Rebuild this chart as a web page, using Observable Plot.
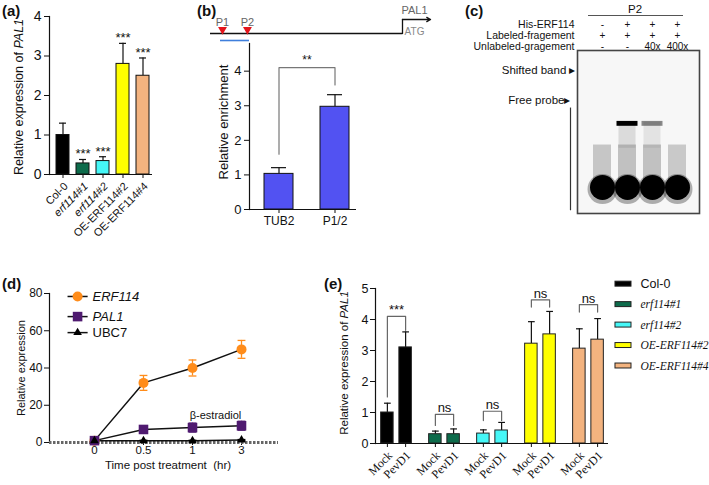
<!DOCTYPE html>
<html><head><meta charset="utf-8">
<script src="https://cdn.jsdelivr.net/npm/d3@7"></script>
<script src="https://cdn.jsdelivr.net/npm/@observablehq/plot@0.6"></script>
<style>
html,body{margin:0;padding:0;background:#fff;}
#root{position:relative;width:709px;height:485px;overflow:hidden;font-family:"Liberation Sans",Arial,sans-serif;color:#111;}
.panel{position:absolute;}
.panel svg{overflow:visible;}
.letter{position:absolute;font-weight:bold;font-size:15px;line-height:1;}
.ytitle{position:absolute;white-space:nowrap;transform:translate(-50%,-50%) rotate(-90deg);line-height:1;}
.xtitle{position:absolute;white-space:nowrap;transform:translate(-50%,-50%);line-height:1;}
</style></head><body><div id="root"></div>
<script>
// ---------------- DATA ----------------
const genotypes = ["Col-0","erf114#1","erf114#2","OE-ERF114#2","OE-ERF114#4"];
const genotypeColors = ["#000000","#0d6b4b","#45f7f7","#ffff00","#f3b37f"];
const italicSans = ["erf114#1","erf114#2"];

// (a)
const aValues = [1.0, 0.28, 0.34, 2.80, 2.50];
const aErrors = [0.30, 0.10, 0.11, 0.52, 0.45];
const aSig = ["", "***", "***", "***", "***"];
const aTicks = [0,1,2,3,4];

// (b) diagram + ChIP
const promoterSites = ["P1","P2"];
const promoterPos = [-1875, -1615];
const probeSpan = [-1896, -1594];
const promoterLength = -2000;
const bSites = ["TUB2","P1/2"];
const bValues = [1.03, 2.97];
const bErrors = [0.18, 0.35];
const bBracket = [1.6, 4.1, 4.1, 3.6];
const bSig = "**";
const bTicks = [0,1,2,3,4];

// (c) EMSA
const lanes = [1,2,3,4];
const cRowLabels = ["His-ERF114","Labeled-fragement","Unlabeled-gragement"];
const cHis = ["-","+","+","+"];
const cLabeled = ["+","+","+","+"];
const cUnlabeled = ["-","-","40x","400x"];
const cShifted = [0, 1, 0.45, 0];
const cSmear = [0.35, 0.38, 0.38, 0.32];
const cUpperSmear = [0, 0.22, 0.16, 0];

// (d)
const dTimes = ["0","0.5","1","3"];
const erf114Mean = [1, 32, 40, 50];
const erf114Err = [0.6, 4, 4.3, 4.8];
const pal1Mean = [1, 7, 8, 9];
const pal1Err = [0.5, 2, 2.4, 2.4];
const ubc7Mean = [1, 1, 1, 1.3];
const ubc7Err = [0.2, 0.2, 0.2, 0.3];
const dSeries = ["ERF114","PAL1","UBC7"];
const dColors = ["#ff8c1a","#4f1a70","#000000"];
const dTicks = [0,20,40,60,80];

// (e)
const eTreatments = ["Mock","PevD1"];
const eMock = [1.0, 0.30, 0.32, 3.22, 3.06];
const eMockErr = [0.30, 0.10, 0.12, 0.71, 0.64];
const ePev = [3.10, 0.30, 0.42, 3.52, 3.35];
const ePevErr = [0.50, 0.17, 0.26, 0.74, 0.68];
const eBracketLeft = [1.5, 0.58, 0.74, 4.40, 4.24];
const eBracketTop = [4.1, 0.94, 1.04, 4.63, 4.48];
const eBracketRight = [3.65, 0.58, 0.74, 4.40, 4.24];
const eSig = ["***","ns","ns","ns","ns"];
const eTicks = [0,1,2,3,4,5];

// ---------------- HELPERS ----------------
const FONT = '"Liberation Sans", Arial, Helvetica, sans-serif';
const SERIF = '"Liberation Serif", "Times New Roman", serif';
const INT = d3.format("d");
const root = document.getElementById("root");
const baseStyle = (fs) => ({fontFamily: FONT, fontSize: fs, background: "transparent", color: "#111", overflow: "visible"});
function place(node, left, top) {
  const d = document.createElement("div");
  d.className = "panel"; d.style.left = left + "px"; d.style.top = top + "px";
  d.appendChild(node); root.appendChild(d); return node;
}
function html(cls, content, left, top, fs, extra) {
  const d = document.createElement("div");
  d.className = cls; d.innerHTML = content;
  d.style.left = left + "px"; d.style.top = top + "px";
  if (fs) d.style.fontSize = fs + "px";
  if (extra) Object.assign(d.style, extra);
  root.appendChild(d);
}
function addBlur(svg, id, sd, label) {
  const s = d3.select(svg);
  let defs = s.select("defs");
  if (defs.empty()) defs = s.insert("defs", ":first-child");
  defs.append("filter").attr("id", id).attr("x", "-60%").attr("y", "-60%").attr("width", "220%").attr("height", "220%")
    .append("feGaussianBlur").attr("stdDeviation", sd);
  s.selectAll(`[aria-label="${label}"]`).attr("filter", `url(#${id})`);
}

// ---------------- PANEL A ----------------
const aData = genotypes.map((g, i) => ({g, v: aValues[i], e: aErrors[i], s: aSig[i]}));
place(Plot.plot({
  width: 160, height: 245, marginLeft: 49, marginRight: 8, marginTop: 16, marginBottom: 71,
  style: baseStyle("14px"),
  x: {type: "band", domain: genotypes, range: [53, 152], paddingInner: 0.35, paddingOuter: 0.15},
  y: {domain: [0, 4]},
  color: {domain: genotypes, range: genotypeColors},
  marks: [
    Plot.axisY({ticks: aTicks, tickFormat: INT, tickSize: 5, tickPadding: 3, fontSize: 14, label: null}),
    Plot.axisX({tickSize: 4, tickFormat: () => "", label: null}),
    Plot.frame({anchor: "left", strokeWidth: 1.2}),
    Plot.ruleX(aData, {x: "g", y1: "v", y2: d => d.v + d.e, strokeWidth: 1.2}),
    Plot.tickY(aData, {x: "g", y: d => d.v + d.e, insetLeft: 3, insetRight: 3, strokeWidth: 1.2}),
    Plot.barY(aData, {x: "g", y: "v", fill: "g", stroke: "#111", strokeWidth: 1}),
    Plot.ruleY([0], {strokeWidth: 1.2}),
    Plot.text(aData, {x: "g", y: d => d.v + d.e, text: "s", lineAnchor: "bottom", dy: -1, fontSize: 13}),
    Plot.text(aData.filter(d => !italicSans.includes(d.g)), {x: "g", y: 0, text: "g", rotate: -45, textAnchor: "end", dx: 3, dy: 10, fontSize: 11}),
    Plot.text(aData.filter(d => italicSans.includes(d.g)), {x: "g", y: 0, text: "g", rotate: -45, textAnchor: "end", dx: 3, dy: 10, fontSize: 11, fontStyle: "italic"})
  ]
}), 0, 0);
html("letter", "(a)", 2, 3);
html("ytitle", "Relative expression of <i>PAL1</i>", 19, 97, 12.5);

// ---------------- PANEL B: diagram ----------------
const promoter = promoterSites.map((p, i) => ({p, x: promoterPos[i]}));
place(Plot.plot({
  width: 245, height: 45, margin: 0,
  style: baseStyle("11px"),
  x: {domain: [promoterLength, 0], range: [15, 207], axis: null},
  y: {domain: [0, 1], range: [33, 19], axis: null},
  marks: [
    Plot.ruleY([0], {x1: promoterLength, x2: 0, strokeWidth: 1.6, stroke: "#111"}),
    Plot.line([{x: 0, y: 0}, {x: 0, y: 1}], {x: "x", y: "y", strokeWidth: 1.3, stroke: "#111"}),
    Plot.arrow([0], {x1: 0, y1: 1, x2: 292, y2: 1, headLength: 5, strokeWidth: 1.3, stroke: "#111"}),
    Plot.ruleY([-0.5], {x1: probeSpan[0], x2: probeSpan[1], stroke: "#3f7fdc", strokeWidth: 1.6}),
    Plot.dot(promoter, {x: "x", y: 0, symbol: "triangle", rotate: 180, r: 3.3, fill: "#e3141b", stroke: "none", dy: -4}),
    Plot.text(promoter, {x: "x", y: 0.8, text: "p", fill: "#666", fontSize: 11}),
    Plot.text(["PAL1"], {x: 125, y: 1.64, text: d => d, fill: "#666", fontSize: 11}),
    Plot.text(["ATG"], {x: 125, y: 0.1, text: d => d, fill: "#888", fontSize: 10})
  ]
}), 195, 0);
html("letter", "(b)", 197, 3);

// ---------------- PANEL B: bars ----------------
const bData = bSites.map((s, i) => ({s, v: bValues[i], e: bErrors[i]}));
place(Plot.plot({
  width: 175, height: 195, marginLeft: 54, marginRight: 14, marginTop: 3, marginBottom: 26,
  style: baseStyle("13px"),
  x: {type: "band", domain: bSites, range: [62, 161], paddingInner: 0.487, paddingOuter: 0.12},
  y: {domain: [0, 4.8]},
  marks: [
    Plot.axisY({ticks: bTicks, tickFormat: INT, tickSize: 5, tickPadding: 3, fontSize: 13, label: null}),
    Plot.axisX({tickSize: 4, tickPadding: 3, fontSize: 12, label: null}),
    Plot.frame({anchor: "left", strokeWidth: 1.2}),
    Plot.ruleX(bData, {x: "s", y1: "v", y2: d => d.v + d.e, strokeWidth: 1.2}),
    Plot.tickY(bData, {x: "s", y: d => d.v + d.e, insetLeft: 7, insetRight: 7, strokeWidth: 1.2}),
    Plot.barY(bData, {x: "s", y: "v", fill: "#5252f2", stroke: "#111", strokeWidth: 1}),
    Plot.ruleY([0], {strokeWidth: 1.2}),
    Plot.line([0, 1, 2, 3].map(i => ({x: bSites[i < 2 ? 0 : 1], y: bBracket[i]})), {x: "x", y: "y", stroke: "#777", strokeWidth: 1.2}),
    Plot.text([bSig], {x: () => bSites[0], y: bBracket[1], text: d => d, dx: 28, dy: -8, fontSize: 12})
  ]
}), 195, 40);
html("ytitle", "Relative enrichment", 223, 122, 13);

// ---------------- PANEL C: EMSA ----------------
const cRowY = [-16, -9.2, -2.5];
const cSvg = Plot.plot({
  width: 289, height: 240, marginLeft: 157, marginRight: 10, marginTop: 50, marginBottom: 27,
  style: baseStyle("11px"),
  x: {domain: [0, 4.88], axis: null},
  y: {domain: [0, 100], range: [50, 213], axis: null},
  marks: [
    Plot.frame({fill: "#f7f7f7", stroke: "#444", strokeWidth: 1.6}),
    Plot.rect(lanes, {x1: d => d - 0.36, x2: d => d + 0.36, y1: 58, y2: 84, fill: "#6a6a6a", fillOpacity: (d, i) => cSmear[i], ariaLabel: "gel-smear"}),
    Plot.rect(lanes, {x1: d => d - 0.34, x2: d => d + 0.34, y1: 44, y2: 60, fill: "#7a7a7a", fillOpacity: (d, i) => cUpperSmear[i], ariaLabel: "gel-smear"}),
    Plot.rect(lanes, {x1: d => d - 0.42, x2: d => d + 0.42, y1: 43.5, y2: 46.5, fill: "#000", fillOpacity: (d, i) => cShifted[i], ariaLabel: "gel-band"}),
    Plot.dot(lanes, {x: d => d, y: 85, r: 15, fill: "#000", fillOpacity: 0.3, ariaLabel: "gel-halo"}),
    Plot.dot(lanes, {x: d => d, y: 84, r: 12.5, fill: "#000", ariaLabel: "gel-blob"}),
    Plot.ruleY([-21.5], {x1: 0.44, x2: 4.24, stroke: "#555", strokeWidth: 1.1}),
    Plot.text(["P2"], {x: 2.3, y: -25, text: d => d, fontSize: 11.5}),
    Plot.text(lanes, {x: d => d, y: cRowY[0], text: (d, i) => cHis[i], fontSize: 10}),
    Plot.text(lanes, {x: d => d, y: cRowY[1], text: (d, i) => cLabeled[i], fontSize: 10}),
    Plot.text(lanes, {x: d => d, y: cRowY[2], text: (d, i) => cUnlabeled[i], fontSize: 10}),
    Plot.text(cRowLabels, {x: -0.12, y: (d, i) => cRowY[i], text: d => d, textAnchor: "end", fontSize: 10.5}),
    Plot.text(["Shifted band \u25B8"], {x: -0.08, y: 12.3, text: d => d, textAnchor: "end", fontSize: 11.5}),
    Plot.text(["Free probe\u25B8"], {x: -0.28, y: 30.7, text: d => d, textAnchor: "end", fontSize: 11.5}),
    Plot.link([0], {x1: -0.28, x2: -0.28, y1: 35, y2: 98, stroke: "#333", strokeWidth: 1.2})
  ]
});
place(cSvg, 420, 0);
addBlur(cSvg, "blurSmear", 2.2, "gel-smear");
addBlur(cSvg, "blurBand", 0.9, "gel-band");
addBlur(cSvg, "blurHalo", 3, "gel-halo");
addBlur(cSvg, "blurBlob", 1.1, "gel-blob");
html("letter", "(c)", 465, 3);

// ---------------- PANEL D ----------------
const dMeans = [erf114Mean, pal1Mean, ubc7Mean];
const dErrs = [erf114Err, pal1Err, ubc7Err];
const dPoints = dSeries.flatMap((s, k) => dTimes.map((t, i) => ({s, k, i, v: dMeans[k][i], e: dErrs[k][i]})));
const dSymbols = ["circle", "square", "triangle"];
const dR = [5, 5.4, 3.2];
const legendX0 = -0.55, legendX1 = -0.14, legendTextX = -0.04;
const legendY = [78.4, 67.6, 59];
const dLegend = dSeries.map((s, k) => ({s, k}));
const dMarks = [
  Plot.axisY({ticks: dTicks, tickFormat: INT, tickSize: 5, tickPadding: 2, fontSize: 12, label: null}),
  Plot.axisX({ticks: [0, 1, 2, 3], tickFormat: i => dTimes[i], tickSize: 3, tickPadding: 0, fontSize: 11.5, label: null}),
  Plot.frame({anchor: "left", strokeWidth: 1.2}),
  Plot.ruleY([0], {stroke: "#666", strokeWidth: 3, strokeDasharray: "2.5,1.5"}),
  Plot.line(dPoints, {x: "i", y: "v", z: "s", stroke: "#111", strokeWidth: 1.5}),
  Plot.ruleX(dPoints, {x: "i", y1: d => d.v - d.e, y2: d => d.v + d.e, stroke: d => dColors[d.k], strokeWidth: 1.3}),
  Plot.link(dPoints, {x1: d => d.i - 0.08, x2: d => d.i + 0.08, y1: d => d.v + d.e, y2: d => d.v + d.e, stroke: d => dColors[d.k], strokeWidth: 1.3}),
  Plot.link(dPoints, {x1: d => d.i - 0.08, x2: d => d.i + 0.08, y1: d => d.v - d.e, y2: d => d.v - d.e, stroke: d => dColors[d.k], strokeWidth: 1.3}),
  Plot.text(["\u03B2-estradiol"], {x: 2.47, y: 14.5, text: d => d, fontSize: 11}),
  Plot.link(dLegend, {x1: legendX0, x2: legendX1, y1: d => legendY[d.k], y2: d => legendY[d.k], stroke: "#111", strokeWidth: 1.5})
];
dSeries.forEach((s, k) => {
  dMarks.push(Plot.dot(dPoints.filter(d => d.k === k), {x: "i", y: "v", symbol: dSymbols[k], r: dR[k], fill: dColors[k], stroke: "none"}));
  dMarks.push(Plot.dot([s], {x: (legendX0 + legendX1) / 2, y: legendY[k], symbol: dSymbols[k], r: dR[k], fill: dColors[k], stroke: "none"}));
  dMarks.push(Plot.text([s], {x: legendTextX, y: legendY[k], text: d => d, textAnchor: "start", fontSize: 13, fontStyle: k < 2 ? "italic" : "normal"}));
});
place(Plot.plot({
  width: 290, height: 200, marginLeft: 49, marginRight: 12, marginTop: 23, marginBottom: 28,
  style: baseStyle("12px"),
  x: {domain: [-0.918, 3.755]},
  y: {domain: [0, 80]},
  marks: dMarks
}), 0, 270);
html("letter", "(d)", 2, 276);
html("ytitle", "Relative expression", 21, 368, 11);
html("xtitle", "Time post treatment&nbsp;&nbsp;(hr)", 168, 466, 11.5);

// ---------------- PANEL E ----------------
const eBarOffset = 0.19, eHalfWidth = 0.13;
const eData = genotypes.flatMap((g, gi) => [
  {g, gi, t: eTreatments[0], x: gi - eBarOffset, v: eMock[gi], e: eMockErr[gi]},
  {g, gi, t: eTreatments[1], x: gi + eBarOffset, v: ePev[gi], e: ePevErr[gi]}
]);
const eBrackets = genotypes.flatMap((g, gi) => [
  {g, x: gi - eBarOffset, y: eBracketLeft[gi]},
  {g, x: gi - eBarOffset, y: eBracketTop[gi]},
  {g, x: gi + eBarOffset, y: eBracketTop[gi]},
  {g, x: gi + eBarOffset, y: eBracketRight[gi]}
]);
const eSigData = genotypes.map((g, gi) => ({g, x: gi, y: eBracketTop[gi], s: eSig[gi]}));
const eLegendX1 = 4.5625, eLegendX2 = 4.896, eLegendTextX = 5.083, eLegendY0 = 5.14, eLegendStep = 0.66, eSwatchH = 0.08;
const eLegend = genotypes.map((g, i) => ({g, y: eLegendY0 - i * eLegendStep}));
place(Plot.plot({
  width: 379, height: 215, marginLeft: 45, marginRight: 101, marginTop: 18, marginBottom: 42,
  style: baseStyle("12.5px"),
  x: {domain: [-0.4375, 4.417]},
  y: {domain: [0, 5]},
  color: {domain: genotypes, range: genotypeColors},
  marks: [
    Plot.axisY({ticks: eTicks, tickFormat: INT, tickSize: 5, tickPadding: 2, fontSize: 12.5, label: null}),
    Plot.axisX({ticks: eData.map(d => d.x), tickFormat: () => "", tickSize: 4, label: null}),
    Plot.frame({anchor: "left", strokeWidth: 1.2}),
    Plot.ruleX(eData, {x: "x", y1: "v", y2: d => d.v + d.e, strokeWidth: 1.2}),
    Plot.link(eData, {x1: d => d.x - 0.07, x2: d => d.x + 0.07, y1: d => d.v + d.e, y2: d => d.v + d.e, strokeWidth: 1.2}),
    Plot.rectY(eData, {x1: d => d.x - eHalfWidth, x2: d => d.x + eHalfWidth, y1: 0, y2: "v", fill: "g", stroke: "#222", strokeWidth: 1}),
    Plot.ruleY([0], {strokeWidth: 1.2}),
    Plot.line(eBrackets, {x: "x", y: "y", z: "g", stroke: "#666", strokeWidth: 1.2}),
    Plot.text(eSigData, {x: "x", y: "y", text: "s", lineAnchor: "bottom", dy: -2, fontSize: 13}),
    Plot.text(eData, {x: "x", y: 0, text: "t", rotate: -45, textAnchor: "end", dx: 3, dy: 10, fontSize: 12, fontFamily: SERIF}),
    Plot.rect(eLegend, {x1: eLegendX1, x2: eLegendX2, y1: d => d.y - eSwatchH, y2: d => d.y + eSwatchH, fill: "g", stroke: "#222", strokeWidth: 1}),
    Plot.text(eLegend.slice(0, 1), {x: eLegendTextX, y: "y", text: "g", textAnchor: "start", fontSize: 12.5}),
    Plot.text(eLegend.slice(1), {x: eLegendTextX, y: "y", text: "g", textAnchor: "start", fontSize: 11.5, fontStyle: "italic", fontFamily: SERIF})
  ]
}), 330, 270);
html("letter", "(e)", 324, 276);
html("ytitle", "Relative expression of <i>PAL1</i>", 345, 363, 11.5);
</script></body></html>
